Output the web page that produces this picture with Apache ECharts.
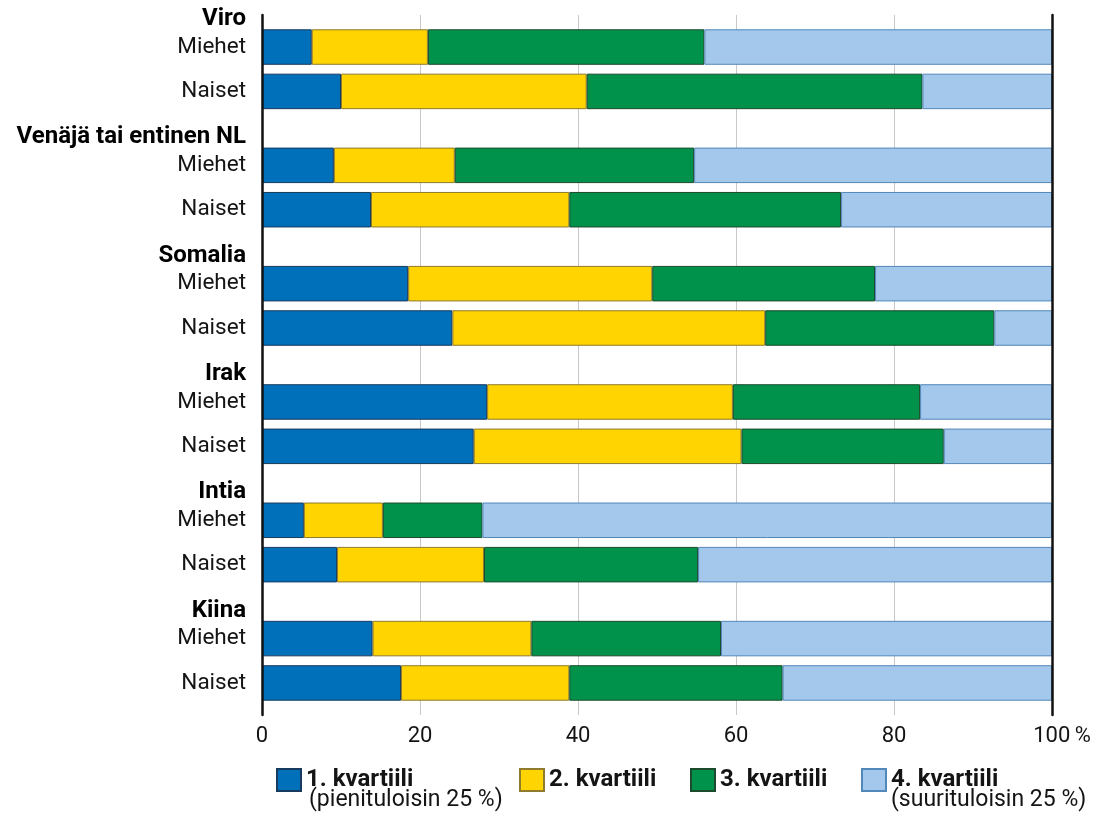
<!DOCTYPE html>
<html>
<head>
<meta charset="utf-8">
<script src="https://cdn.jsdelivr.net/npm/echarts@6/dist/echarts.min.js"></script>
<style>
  html, body { margin: 0; padding: 0; background: #fff; }
  #chart { width: 1100px; height: 822px; }
</style>
</head>
<body>
<div id="chart"></div>
<script>
// ryhmät (ylhäältä alas) ja alaryhmät
var groups = ['Viro', 'Venäjä tai entinen NL', 'Somalia', 'Irak', 'Intia', 'Kiina']
var genders = ['Miehet', 'Naiset']
var quartiles = ['1. kvartiili', '2. kvartiili', '3. kvartiili', '4. kvartiili']
var quartileNotes = ['(pienituloisin 25 %)', '', '', '(suurituloisin 25 %)']

// osuudet %, järjestys: Viro M, Viro N, Venäjä M, Venäjä N, ...
var q1 = [6.3, 10.0, 9.1, 13.8, 18.5, 24.1, 28.5, 26.8, 5.3, 9.5, 14.0, 17.6]
var q2 = [14.7, 31.1, 15.3, 25.1, 30.9, 39.6, 31.1, 33.9, 10.0, 18.6, 20.1, 21.3]
var q3 = [35.0, 42.5, 30.3, 34.4, 28.2, 29.0, 23.7, 25.6, 12.6, 27.1, 24.0, 27.0]
var q4 = [44.0, 16.4, 45.3, 26.7, 22.4, 7.3, 16.7, 13.7, 72.1, 44.8, 41.9, 34.1]

var xTicks = [0, 20, 40, 60, 80, 100]

var colors = ['#0070BA', '#FFD400', '#00924A', '#A3C8EB']
var borders = ['#173A5E', '#8E7B2C', '#1B4A2C', '#5287B9']

// kategoria-akseli jaetaan pieniin rakoihin, jotta otsikot ja välit saadaan kohdalleen
var GROUP_SLOTS = 24
var SLOT_HEADER = 0
var SLOT_ROW = [6, 15]
var totalSlots = (groups.length - 1) * GROUP_SLOTS + SLOT_ROW[1] + 7

var slotKeys = []
var slotLabels = []
for (var i = 0; i < totalSlots; i++) {
  slotKeys.push('s' + i)
  slotLabels.push('')
}
var barSlots = []
groups.forEach(function (g, gi) {
  var base = gi * GROUP_SLOTS
  slotLabels[base + SLOT_HEADER] = '{h|' + g + '}'
  genders.forEach(function (s, si) {
    var idx = base + SLOT_ROW[si]
    slotLabels[idx] = '{n|' + s + '}'
    barSlots.push(idx)
  })
})

function toSlots(values) {
  var arr = []
  for (var i = 0; i < totalSlots; i++) arr.push('-')
  values.forEach(function (v, i) { arr[barSlots[i]] = v })
  return arr
}

var FONT = 'Roboto, "Noto Sans", sans-serif'
var TEXT = '#141414'

var series = [q1, q2, q3, q4].map(function (vals, i) {
  return {
    name: quartiles[i],
    type: 'bar',
    stack: 'total',
    barWidth: 35.5,
    silent: true,
    itemStyle: { color: colors[i], borderColor: borders[i], borderWidth: 1 },
    data: toSlots(vals)
  }
})

var categoryAxis = {
  type: 'category',
  data: slotKeys,
  inverse: true,
  axisTick: { show: false },
  splitLine: { show: false },
  axisLine: { show: true, lineStyle: { color: '#111', width: 2.5 } },
  z: 5
}

var option = {
  animation: false,
  backgroundColor: '#fff',
  grid: { left: 262, right: 48, top: 15, height: 700 },
  xAxis: {
    type: 'value',
    min: xTicks[0],
    max: xTicks[xTicks.length - 1],
    interval: xTicks[1] - xTicks[0],
    axisLine: { show: false },
    axisTick: { show: false },
    splitLine: { lineStyle: { color: '#c8c8c8', width: 1 } },
    axisLabel: {
      margin: 10,
      color: TEXT,
      fontFamily: FONT,
      fontSize: 22,
      formatter: function (v) {
        return v === 100 ? '{a|100}{b|\u2009%}' : String(v)
      },
      rich: {
        a: { fontFamily: FONT, fontSize: 22, color: TEXT, padding: [0, 0, 0, 20] },
        b: { fontFamily: FONT, fontSize: 22, color: TEXT }
      }
    }
  },
  yAxis: [
    Object.assign({}, categoryAxis, {
      position: 'left',
      axisLabel: {
        interval: 0,
        margin: 16,
        color: TEXT,
        fontFamily: FONT,
        formatter: function (v, idx) { return slotLabels[idx] },
        rich: {
          h: { fontFamily: FONT, fontSize: 24, fontWeight: 'bold', color: '#000', padding: [3, 0, 0, 0] },
          n: { fontFamily: FONT, fontSize: 22.5, color: TEXT }
        }
      }
    }),
    Object.assign({}, categoryAxis, {
      position: 'right',
      axisLabel: { show: false }
    })
  ],
  legend: {
    left: 276,
    top: 768,
    padding: 0,
    icon: 'rect',
    itemWidth: 24,
    itemHeight: 22,
    itemGap: 26,
    selectedMode: false,
    textStyle: { fontFamily: FONT, fontSize: 24, fontWeight: 'bold', color: TEXT, lineHeight: 22 },
    data: [
      { name: quartiles[0], textStyle: { width: 187 } },
      { name: quartiles[1], textStyle: { width: 115 } },
      { name: quartiles[2], textStyle: { width: 115 } },
      { name: quartiles[3] }
    ]
  },
  graphic: [
    {
      type: 'text', left: 309, top: 789,
      style: { text: quartileNotes[0], font: '23px ' + FONT, fill: TEXT }
    },
    {
      type: 'text', left: 891, top: 789,
      style: { text: quartileNotes[3], font: '23px ' + FONT, fill: TEXT }
    }
  ],
  series: series
}

var chart = echarts.init(document.getElementById('chart'), null, { renderer: 'canvas' })
chart.setOption(option)
</script>
</body>
</html>
